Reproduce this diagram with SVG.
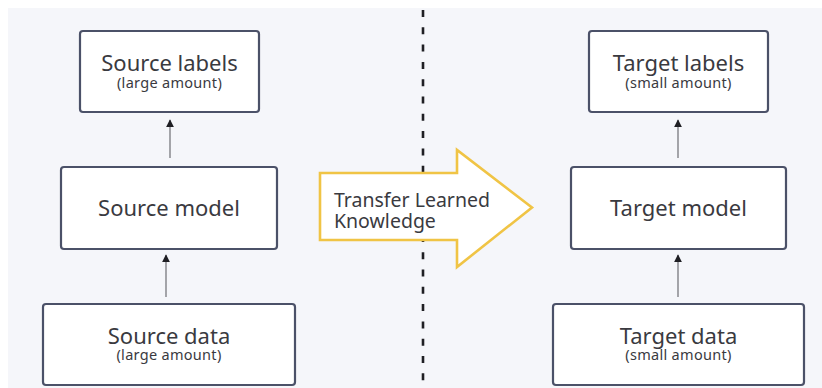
<svg xmlns="http://www.w3.org/2000/svg" width="822" height="388" viewBox="0 0 822 388">
  <defs>
    <marker id="tip" viewBox="0 0 10 10" refX="9" refY="5" markerWidth="6" markerHeight="6" orient="auto">
      <path d="M0,0 L10,5 L0,10 z" fill="#1f1f24"/>
    </marker>
    <style>
      .box { fill: #ffffff; stroke: #4b5168; stroke-width: 2.2; }
      .title { font-family: "Noto Sans", "Liberation Sans", sans-serif; font-size: 22px; fill: #3a3a3f; text-anchor: middle; }
      .sub { font-family: "Noto Sans", "Liberation Sans", sans-serif; font-size: 14.5px; letter-spacing: 0.3px; fill: #3a3a3f; text-anchor: middle; }
      .link { stroke: #77787e; stroke-width: 1.3; fill: none; marker-end: url(#tip); }
      .xfer { font-family: "Noto Sans", "Liberation Sans", sans-serif; font-size: 19.5px; fill: #3a3a3f; }
    </style>
  </defs>

  <!-- canvas -->
  <rect x="8" y="8" width="814" height="380" fill="#f5f6fa"/>

  <!-- divider between source and target sides -->
  <line x1="423" y1="10" x2="423" y2="388" stroke="#1f1f24" stroke-width="2.6" stroke-dasharray="7 10.3"/>

  <g id="connectors">
    <line class="link" x1="170" y1="158" x2="170" y2="120"/>
    <line class="link" x1="166" y1="297" x2="166" y2="255"/>
    <line class="link" x1="678" y1="158" x2="678" y2="120"/>
    <line class="link" x1="678" y1="297" x2="678" y2="255"/>
  </g>

  <g id="source-labels">
    <rect class="box" x="80" y="31" width="179" height="81" rx="3"/>
    <text class="title" x="169.5" y="71">Source labels</text>
    <text class="sub" x="169.5" y="87.5">(large amount)</text>
  </g>

  <g id="source-model">
    <rect class="box" x="61" y="167" width="216" height="82" rx="3"/>
    <text class="title" x="169" y="216">Source model</text>
  </g>

  <g id="source-data">
    <rect class="box" x="43" y="304" width="252" height="81" rx="3"/>
    <text class="title" x="169" y="344">Source data</text>
    <text class="sub" x="169" y="360">(large amount)</text>
  </g>

  <g id="transfer">
    <path d="M320,173 L457,173 L457,150 L532,207.5 L457,267 L457,240 L320,240 Z" fill="#ffffff" stroke="#f0c445" stroke-width="2.6" stroke-linejoin="miter"/>
    <text class="xfer" x="334" y="207">Transfer Learned</text>
    <text class="xfer" x="334" y="228">Knowledge</text>
  </g>

  <g id="target-labels">
    <rect class="box" x="589" y="31" width="179" height="81" rx="3"/>
    <text class="title" x="678.5" y="71">Target labels</text>
    <text class="sub" x="678.5" y="87.5">(small amount)</text>
  </g>

  <g id="target-model">
    <rect class="box" x="571" y="167" width="215" height="82" rx="3"/>
    <text class="title" x="678.5" y="216">Target model</text>
  </g>

  <g id="target-data">
    <rect class="box" x="553" y="304" width="251" height="81" rx="3"/>
    <text class="title" x="678.5" y="344">Target data</text>
    <text class="sub" x="678.5" y="360">(small amount)</text>
  </g>
</svg>
